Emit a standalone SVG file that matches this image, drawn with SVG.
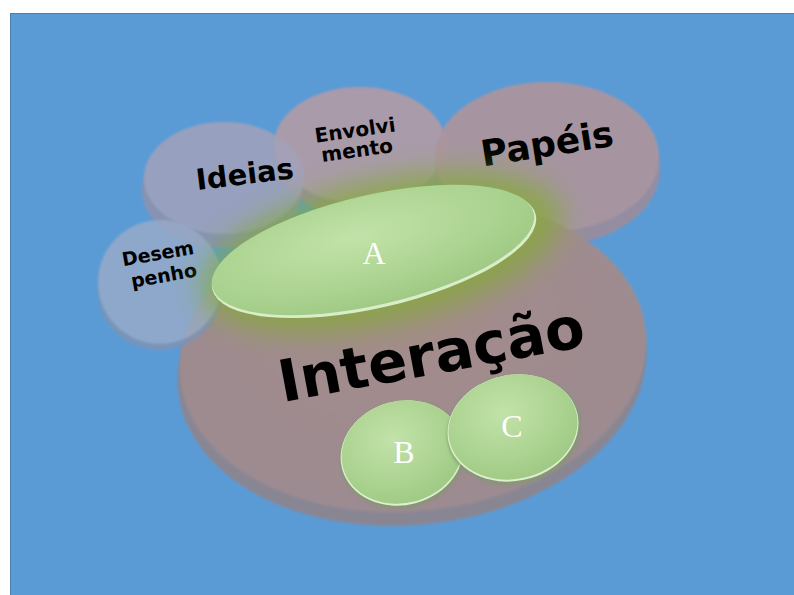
<svg xmlns="http://www.w3.org/2000/svg" width="794" height="595" viewBox="0 0 794 595">
<defs>
<style>
.lbl{font-family:"DejaVu Sans","Liberation Sans",sans-serif;font-weight:bold;fill:#000;text-anchor:middle}
.let{font-family:"Liberation Serif","DejaVu Serif",serif;fill:#fff;text-anchor:middle}
</style>
<radialGradient id="gGreen" cx="0.45" cy="0.35" r="0.7">
<stop offset="0" stop-color="#c2e2a9"/>
<stop offset="0.7" stop-color="#a9d18e"/>
<stop offset="1" stop-color="#9cc782"/>
</radialGradient>
<radialGradient id="gMain" cx="0.5" cy="0.4" r="0.6">
<stop offset="0" stop-color="#a88c88"/>
<stop offset="1" stop-color="#a08b8e"/>
</radialGradient>
<filter id="glow" x="-30%" y="-60%" width="160%" height="220%">
<feGaussianBlur stdDeviation="14"/>
</filter>
<filter id="soft" x="-10%" y="-10%" width="120%" height="120%">
<feGaussianBlur stdDeviation="1.2"/>
</filter>
</defs>
<rect x="0" y="0" width="794" height="595" fill="#ffffff"/>
<rect id="bg" x="10" y="13" width="784" height="582" fill="#5b9bd5"/>
<line x1="10.5" y1="13" x2="10.5" y2="595" stroke="#4a7fb0" stroke-width="1"/>
<line x1="10" y1="13.5" x2="794" y2="13.5" stroke="#4a7fb0" stroke-width="1"/>

<g id="disc-envolvimento">
<g opacity="0.9">
<ellipse cx="360" cy="155" rx="86" ry="62" fill="#9d8d9c" filter="url(#soft)"/>
<ellipse cx="360" cy="145" rx="86" ry="58" fill="#b29ba6" filter="url(#soft)"/>
</g>
<text class="lbl" x="356" y="137" font-size="20" transform="rotate(-8 356 137)">Envolvi</text>
<text class="lbl" x="358" y="157" font-size="20" transform="rotate(-8 358 157)">mento</text>
</g>

<g id="disc-ideias">
<g opacity="0.85">
<ellipse cx="222" cy="190" rx="80" ry="58" fill="#8f92ac" filter="url(#soft)"/>
<ellipse cx="224" cy="178" rx="80" ry="56" fill="#a2a2ba" filter="url(#soft)"/>
</g>
<text class="lbl" x="246" y="184" font-size="29" transform="rotate(-7 246 184)">Ideias</text>
</g>

<g id="disc-papeis">
<g opacity="0.95">
<ellipse cx="548" cy="170" rx="112" ry="76" fill="#988d9f" filter="url(#soft)"/>
<ellipse cx="547" cy="157" rx="112" ry="75" fill="#ab959f" filter="url(#soft)"/>
</g>
<text class="lbl" x="549" y="156" font-size="36" transform="rotate(-9 549 156)">Papéis</text>
</g>

<g id="disc-interacao">
<g opacity="0.95">
<ellipse cx="412" cy="367" rx="235" ry="158" fill="#8c8590" transform="rotate(-6 412 367)" filter="url(#soft)"/>
<ellipse cx="413" cy="355" rx="234" ry="156" fill="url(#gMain)" transform="rotate(-6 413 355)" filter="url(#soft)"/>
</g>
<text class="lbl" x="435" y="374" font-size="58" textLength="310" lengthAdjust="spacingAndGlyphs" transform="rotate(-10.5 435 374)">Interação</text>
</g>

<g id="disc-desempenho">
<g opacity="0.82">
<ellipse cx="160" cy="292" rx="62" ry="58" fill="#7f93b3" filter="url(#soft)"/>
<ellipse cx="160" cy="282" rx="62" ry="62" fill="#98abc8" filter="url(#soft)"/>
</g>
<text class="lbl" x="159" y="260" font-size="19" transform="rotate(-10 159 260)">Desem</text>
<text class="lbl" x="165" y="282" font-size="19" transform="rotate(-10 165 282)">penho</text>
</g>

<g id="node-a">
<ellipse cx="382" cy="252" rx="185" ry="72" fill="#84ab35" opacity="0.75" transform="rotate(-13 382 252)" filter="url(#glow)"/>
<ellipse cx="374" cy="252" rx="166" ry="56" fill="#d8eec8" transform="rotate(-13 374 252)"/>
<ellipse cx="373" cy="250" rx="165" ry="55" fill="url(#gGreen)" transform="rotate(-13 373 250)"/>
<text class="let" x="374" y="264" font-size="32">A</text>
</g>

<g id="node-b">
<ellipse cx="403" cy="455" rx="64" ry="53" fill="#7f9a6d" opacity="0.6" transform="rotate(-15 403 455)" filter="url(#soft)"/>
<ellipse cx="402" cy="453" rx="62" ry="52" fill="#dcf0cc" transform="rotate(-15 402 453)"/>
<ellipse cx="402" cy="452" rx="61" ry="51" fill="url(#gGreen)" transform="rotate(-15 402 452)"/>
<text class="let" x="404" y="463" font-size="32">B</text>
</g>

<g id="node-c">
<ellipse cx="514" cy="430" rx="68" ry="55" fill="#7f9a6d" opacity="0.6" transform="rotate(-12 514 430)" filter="url(#soft)"/>
<ellipse cx="513" cy="428" rx="66" ry="53" fill="#dcf0cc" transform="rotate(-12 513 428)"/>
<ellipse cx="513" cy="427" rx="65" ry="52" fill="url(#gGreen)" transform="rotate(-12 513 427)"/>
<text class="let" x="512" y="437" font-size="32">C</text>
</g>
</svg>
